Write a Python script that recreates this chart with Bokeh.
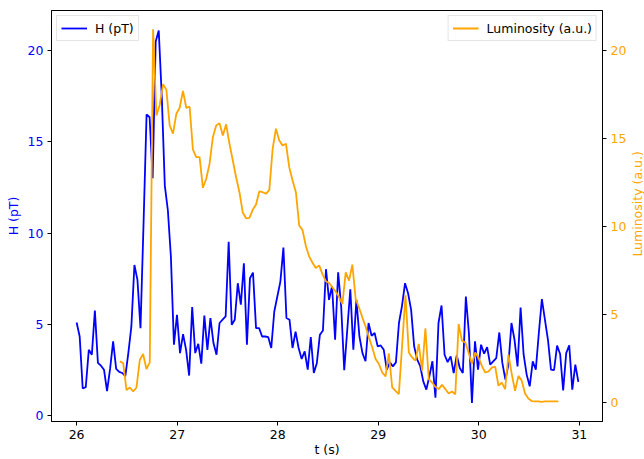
import math
import numpy as np
from bokeh.plotting import figure
from bokeh.layouts import row
from bokeh.models import (Range1d, LinearAxis, FixedTicker, Legend, LegendItem,
                          ColumnDataSource)
from bokeh.core.properties import value
from bokeh.embed import file_html
from bokeh.resources import INLINE

# ---- data ----
h_start, h_end = 26.0, 30.99
H = [5.1, 4.33, 1.48, 1.55, 3.6, 3.33, 5.75, 2.88, 2.73, 2.51,
     1.33, 2.55, 4.06, 2.55, 2.39, 2.33, 2.15, 3.42, 4.88, 8.25,
     7.43, 4.79, 10.5, 16.5, 16.35, 13.0, 20.5, 21.1, 17.5, 12.6,
     11.25, 8.7, 3.88, 5.52, 3.42, 4.46, 3.6, 2.19, 5.94, 3.42,
     3.93, 2.84, 5.48, 3.6, 5.34, 3.97, 3.33, 5.07, 5.25, 5.43,
     9.52, 4.97, 5.25, 7.25, 6.07, 8.34, 3.88, 7.52, 7.83, 4.79,
     4.79, 4.33, 4.33, 4.3, 3.7, 5.7, 6.52, 7.34, 9.2, 5.34,
     5.25, 3.7, 4.6, 3.7, 3.1, 3.51, 2.51, 4.3, 2.33, 2.88,
     4.43, 4.66, 8.02, 6.34, 7.1, 4.15, 7.85, 5.97, 2.48, 4.7,
     6.92, 3.6, 6.34, 4.33, 3.42, 2.97, 5.07, 4.37, 4.52, 3.79,
     3.84, 3.6, 2.51, 2.91, 2.69, 2.91, 5.07, 6.01, 7.25, 6.7,
     5.79, 3.79, 3.06, 2.7, 1.87, 1.42, 2.15, 2.97, 0.97, 5.07,
     6.03, 3.33, 2.93, 3.24, 2.33, 3.3, 2.6, 2.33, 6.52, 4.52,
     0.69, 4.06, 2.51, 3.88, 3.39, 3.75, 2.79, 2.97, 3.15, 4.55,
     2.88, 1.97, 2.79, 5.07, 4.15, 2.69, 5.92, 3.33, 2.24, 1.6,
     2.97, 2.51, 4.52, 6.38, 5.25, 4.15, 2.51, 2.48, 3.83, 3.37,
     1.37, 3.42, 3.84, 1.42, 2.79, 1.84]

l_start, l_end = 26.43, 30.79
L = [2.35, 2.25, 0.72, 0.87, 0.64, 0.87, 2.43, 2.77, 1.91, 2.29,
     21.2, 16.3, 16.9, 18.07, 17.77, 15.74, 15.27, 16.4, 16.74, 17.69,
     16.74, 16.8, 14.36, 13.94, 13.94, 12.2, 12.71, 13.56, 15.07, 15.74,
     15.87, 15.17, 15.8, 14.7, 13.75, 12.8, 11.95, 10.8, 10.47, 10.49,
     10.95, 11.25, 12.0, 11.95, 11.86, 12.08, 14.41, 15.55, 14.89, 14.6,
     14.7, 13.37, 12.61, 11.95, 10.06, 9.8, 8.9, 8.3, 7.95, 7.65,
     7.8, 7.3, 6.9, 6.8, 6.55, 6.3, 6.0, 5.6, 7.4, 6.93,
     7.84, 5.89, 5.41, 4.85, 4.32, 3.71, 3.14, 2.48, 2.2, 1.72,
     1.5, 2.8, 0.87, 0.68, 0.49, 3.3, 6.1, 2.86, 2.57, 2.39,
     3.34, 1.82, 4.22, 1.35, 1.15, 0.91, 0.78, 1.02, 0.78, 0.53,
     0.64, 0.49, 4.47, 3.52, 3.43, 2.86, 2.2, 2.86, 2.57, 2.1,
     1.72, 1.78, 2.0, 2.05, 0.97, 1.15, 0.78, 2.73, 1.63, 0.68,
     1.53, 1.25, 0.53, 0.24, 0.1, 0.08, 0.08, 0.05, 0.08, 0.08,
     0.08, 0.08, 0.08]

x_ticks = [26, 27, 28, 29, 30, 31]
y_ticks = [0, 5, 10, 15, 20]
right_title = "Luminosity (a.u.)"

t_H = np.linspace(h_start, h_end, len(H))
t_L = np.linspace(l_start, l_end, len(L))

FONT = "DejaVu Sans"
FS = "12.5px"
LABEL_STRIP_W = 15

p = figure(width=644 - LABEL_STRIP_W, height=459, output_backend="svg",
           toolbar_location=None,
           x_range=Range1d(25.75, 31.23), y_range=Range1d(-0.33, 22.2),
           min_border_left=51, min_border_right=644 - LABEL_STRIP_W - 603,
           min_border_top=10, min_border_bottom=37)
p.extra_y_ranges = {"lum": Range1d(-1.06, 22.26)}
p.background_fill_color = "white"
p.border_fill_color = "white"
p.outline_line_color = "black"
p.outline_line_width = 1
p.xgrid.visible = False
p.ygrid.visible = False

src_h = ColumnDataSource(dict(t=t_H, v=H))
src_l = ColumnDataSource(dict(t=t_L, v=L))
rh = p.line("t", "v", source=src_h, color="blue", line_width=1.8)
rl = p.line("t", "v", source=src_l, color="orange", line_width=1.8, y_range_name="lum")

def style_axis(ax, color, label):
    ax.axis_label = label
    ax.axis_label_text_font = FONT
    ax.axis_label_text_font_size = FS
    ax.axis_label_text_font_style = "normal"
    ax.axis_label_text_color = color
    ax.major_label_text_font = FONT
    ax.major_label_text_font_size = FS
    ax.major_label_text_color = color
    ax.major_tick_out = 4
    ax.major_tick_in = 0
    ax.minor_tick_out = 0
    ax.minor_tick_in = 0
    ax.major_tick_line_color = "black"
    ax.axis_line_color = "black"

xax = p.xaxis[0]
style_axis(xax, "black", "t (s)")
xax.ticker = FixedTicker(ticks=x_ticks)
xax.major_label_standoff = 4
xax.axis_label_standoff = 0

yax = p.yaxis[0]
style_axis(yax, "blue", "H (pT)")
yax.ticker = FixedTicker(ticks=y_ticks)
yax.major_label_standoff = 4
yax.axis_label_standoff = 4

rax = LinearAxis(y_range_name="lum")
style_axis(rax, "orange", None)
rax.ticker = FixedTicker(ticks=y_ticks)
rax.major_label_standoff = 4
p.add_layout(rax, "right")

def make_legend(item, loc):
    lg = Legend(items=[item], location=loc)
    lg.label_text_font = FONT
    lg.label_text_font_size = FS
    lg.label_text_color = "black"
    lg.glyph_width = 26
    lg.glyph_height = 16
    lg.label_standoff = 8
    lg.padding = 4
    lg.spacing = 0
    lg.margin = 5
    lg.border_line_color = "#cccccc"
    lg.border_line_width = 1
    lg.background_fill_color = "white"
    lg.background_fill_alpha = 0.8
    return lg

p.add_layout(make_legend(LegendItem(label="H (pT)", renderers=[rh]), "top_left"), "center")
p.add_layout(make_legend(LegendItem(label="Luminosity (a.u.)", renderers=[rl]), "top_right"), "center")

# narrow strip holding the right-axis title, reading bottom-to-top
q = figure(width=LABEL_STRIP_W, height=459, output_backend="svg", toolbar_location=None,
           x_range=Range1d(0, LABEL_STRIP_W), y_range=Range1d(0, 459),
           min_border=0, min_border_left=0, min_border_right=0,
           min_border_top=0, min_border_bottom=0)
q.axis.visible = False
q.grid.visible = False
q.outline_line_color = None
q.background_fill_color = "white"
q.border_fill_color = "white"
q.text(x=[8], y=[459 - 216], text=[right_title], angle=math.pi / 2,
       text_align="center", text_baseline="middle",
       text_font=value(FONT), text_font_size=value(FS), text_color="orange")

layout = row(p, q, spacing=0)
open("out.html", "w").write(file_html(layout, INLINE))
